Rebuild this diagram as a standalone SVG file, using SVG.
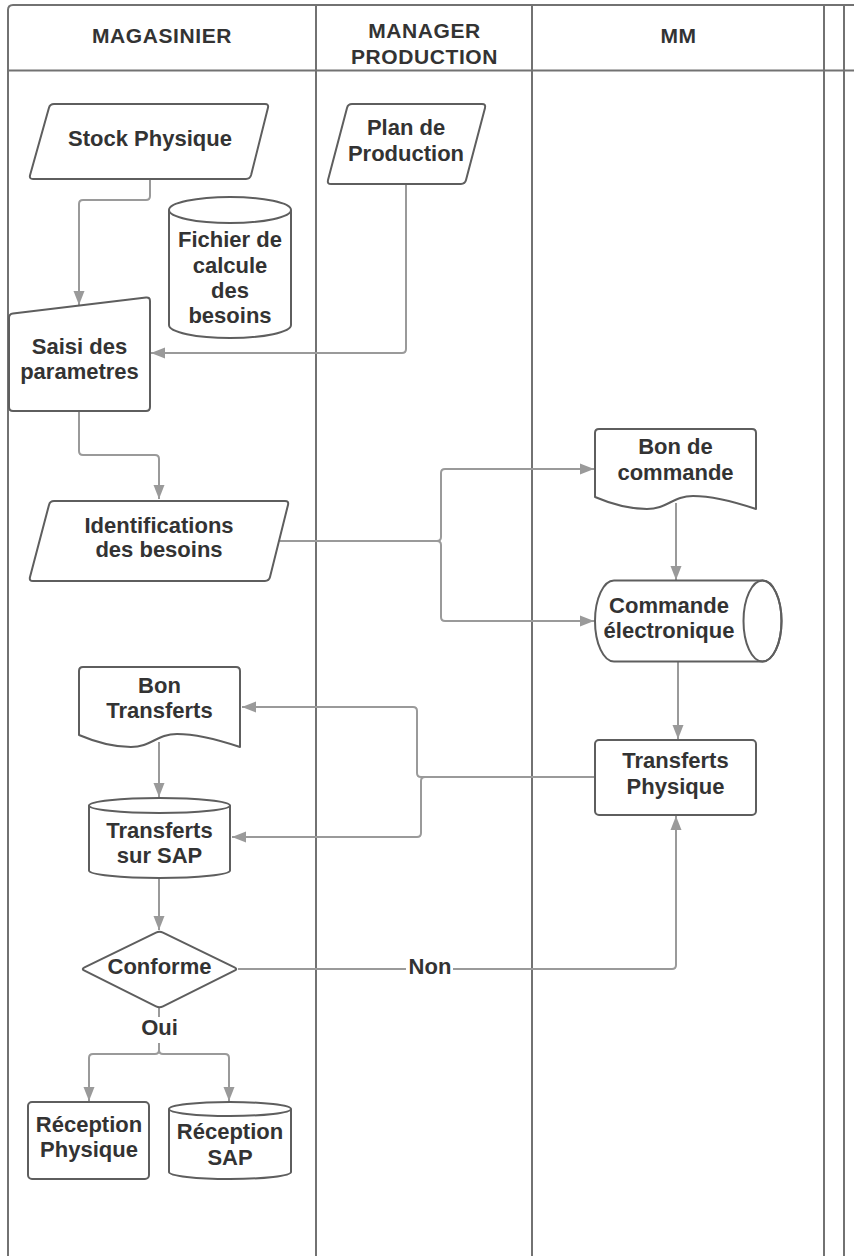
<svg xmlns="http://www.w3.org/2000/svg" width="854" height="1256" viewBox="0 0 854 1256">
<style>
.lane{fill:none;stroke:#727272;stroke-width:2}
.hd{font-family:"Liberation Sans",Arial,sans-serif;font-size:21px;font-weight:bold;fill:#333;text-anchor:middle;letter-spacing:0.6px}
.node{fill:#fff;stroke:#5e5e5e;stroke-width:2;stroke-linejoin:round}
.inner{fill:none;stroke:#5e5e5e;stroke-width:2}
.t{font-family:"Liberation Sans",Arial,sans-serif;font-size:22px;font-weight:bold;fill:#333;text-anchor:middle}
.c{fill:none;stroke:#9a9a9a;stroke-width:2}
.ca{fill:none;stroke:#9a9a9a;stroke-width:2;marker-end:url(#arr)}
.lb{fill:#fff}
</style>
<defs>
<marker id="arr" markerUnits="userSpaceOnUse" viewBox="0 0 15 12" markerWidth="15" markerHeight="12" refX="14" refY="6" orient="auto">
<path d="M0,0.5 L14,6 L0,11.5 Z" fill="#9a9a9a"/>
</marker>
<path id="doc" d="M0,4 Q0,0 4,0 H157 Q161,0 161,4 V80 C140,73 118,67 98,67 C78,67 72,80 52,80 C32,80 14,74 0,68 Z"/>
</defs>
<rect width="854" height="1256" fill="#fff"/>
<g id="lanes">
<path class="lane" d="M8,1256 V10 Q8,5 13,5 H854"/>
<line class="lane" x1="8" y1="70.5" x2="854" y2="70.5"/>
<line class="lane" x1="316" y1="5" x2="316" y2="1256"/>
<line class="lane" x1="532" y1="5" x2="532" y2="1256"/>
<line class="lane" x1="824" y1="5" x2="824" y2="1256"/>
<line class="lane" x1="844" y1="5" x2="844" y2="1256"/>
<text class="hd" x="162" y="43">MAGASINIER</text>
<text class="hd" x="424.5" y="38">MANAGER</text>
<text class="hd" x="424.5" y="64">PRODUCTION</text>
<text class="hd" x="678.5" y="43">MM</text>
</g>
<g id="connectors">
<path class="ca" d="M150,179 V196 Q150,200 146,200 H83 Q79,200 79,204 V305"/>
<path class="ca" d="M406,184 V349 Q406,353 402,353 H151"/>
<path class="ca" d="M79,411 V451 Q79,455 83,455 H155 Q159,455 159,459 V499"/>
<path class="ca" d="M280,541 H437 Q441,541 441,537 V473 Q441,469 445,469 H594"/>
<path class="ca" d="M280,541 H437 Q441,541 441,545 V617 Q441,621 445,621 H594"/>
<path class="ca" d="M676,503 V580"/>
<path class="ca" d="M678,662 V739"/>
<path class="ca" d="M595,777 H421 Q417,777 417,773 V711 Q417,707 413,707 H242"/>
<path class="ca" d="M595,777 H425 Q421,777 421,781 V833 Q421,837 417,837 H232"/>
<path class="ca" d="M159,742 V797"/>
<path class="ca" d="M159,878 V930"/>
<path class="ca" d="M238,969 H672 Q676,969 676,965 V816"/>
<path class="c" d="M159,1008 V1050"/>
<path class="ca" d="M159,1050 Q159,1054 155,1054 H93 Q89,1054 89,1058 V1101"/>
<path class="ca" d="M159,1050 Q159,1054 163,1054 H225 Q229,1054 229,1058 V1101"/>
<rect class="lb" x="406" y="956" width="47" height="26"/>
<text class="t" x="430" y="973.5">Non</text>
<rect class="lb" x="140" y="1017" width="39" height="26"/>
<text class="t" x="159.5" y="1035">Oui</text>
</g>
<g id="stock-physique">
<path class="node" d="M54,104 H265 Q269,104 267.9,107.9 L251.1,175.1 Q250,179 246,179 H33 Q29,179 30.1,175.1 L48.9,107.9 Q50,104 54,104 Z"/>
<text class="t" x="150" y="146">Stock Physique</text>
</g>
<g id="plan-production">
<path class="node" d="M352,104 H482 Q486,104 485,107.9 L466,180.1 Q465,184 461,184 H331 Q327,184 328,180.1 L347,107.9 Q348,104 352,104 Z"/>
<text class="t" x="406" y="135">Plan de</text>
<text class="t" x="406" y="161">Production</text>
</g>
<g id="fichier-calcule">
<path class="node" d="M169,210 A61,13 0 0 1 291,210 V325 A61,13 0 0 1 169,325 Z"/>
<path class="inner" d="M169,210 A61,13 0 0 0 291,210"/>
<text class="t" x="230" y="247">Fichier de</text>
<text class="t" x="230" y="273">calcule</text>
<text class="t" x="230" y="298">des</text>
<text class="t" x="230" y="323">besoins</text>
</g>
<g id="saisi-parametres">
<path class="node" d="M9,318 Q9,314 13,313.5 L146,297.5 Q150,297 150,301 V407 Q150,411 146,411 H13 Q9,411 9,407 Z"/>
<text class="t" x="79.5" y="354">Saisi des</text>
<text class="t" x="79.5" y="379">parametres</text>
</g>
<g id="identifications">
<path class="node" d="M54,501 H285 Q289,501 288,504.9 L270,577.1 Q269,581 265,581 H33 Q29,581 30,577.1 L49,504.9 Q50,501 54,501 Z"/>
<text class="t" x="159" y="532.5">Identifications</text>
<text class="t" x="159" y="557">des besoins</text>
</g>
<g id="bon-commande">
<use href="#doc" class="node" x="595" y="429"/>
<text class="t" x="675.5" y="454">Bon de</text>
<text class="t" x="675.5" y="480">commande</text>
</g>
<g id="commande-electronique">
<path class="node" d="M614,580.5 H762.5 A19,40.5 0 0 1 762.5,661.5 H614 A19,40.5 0 0 1 614,580.5 Z"/>
<ellipse class="inner" cx="762.5" cy="621" rx="19" ry="40.5"/>
<text class="t" x="669" y="613">Commande</text>
<text class="t" x="669" y="638">électronique</text>
</g>
<g id="transferts-physique">
<rect class="node" x="595" y="740" width="161" height="75" rx="4"/>
<text class="t" x="675.5" y="768">Transferts</text>
<text class="t" x="675.5" y="794">Physique</text>
</g>
<g id="bon-transferts">
<use href="#doc" class="node" x="79" y="667"/>
<text class="t" x="159.5" y="693">Bon</text>
<text class="t" x="159.5" y="718">Transferts</text>
</g>
<g id="transferts-sap">
<path class="node" d="M89,805.5 A70.5,7.5 0 0 1 230,805.5 V870.5 A70.5,7.5 0 0 1 89,870.5 Z"/>
<path class="inner" d="M89,805.5 A70.5,7.5 0 0 0 230,805.5"/>
<text class="t" x="159.5" y="838">Transferts</text>
<text class="t" x="159.5" y="863">sur SAP</text>
</g>
<g id="conforme">
<path class="node" d="M156,932.7 Q159.5,931 163,932.7 L234.5,967.3 Q238,969 234.5,970.7 L163,1006.3 Q159.5,1008 156,1006.3 L84.5,970.7 Q81,969 84.5,967.3 Z"/>
<text class="t" x="159.5" y="973.5">Conforme</text>
</g>
<g id="reception-physique">
<rect class="node" x="28" y="1102" width="121" height="77" rx="4"/>
<text class="t" x="89" y="1131.5">Réception</text>
<text class="t" x="89" y="1156.5">Physique</text>
</g>
<g id="reception-sap">
<path class="node" d="M169,1109 A61,7 0 0 1 291,1109 V1172 A61,7 0 0 1 169,1172 Z"/>
<path class="inner" d="M169,1109 A61,7 0 0 0 291,1109"/>
<text class="t" x="230" y="1139">Réception</text>
<text class="t" x="230" y="1165">SAP</text>
</g>
</svg>
